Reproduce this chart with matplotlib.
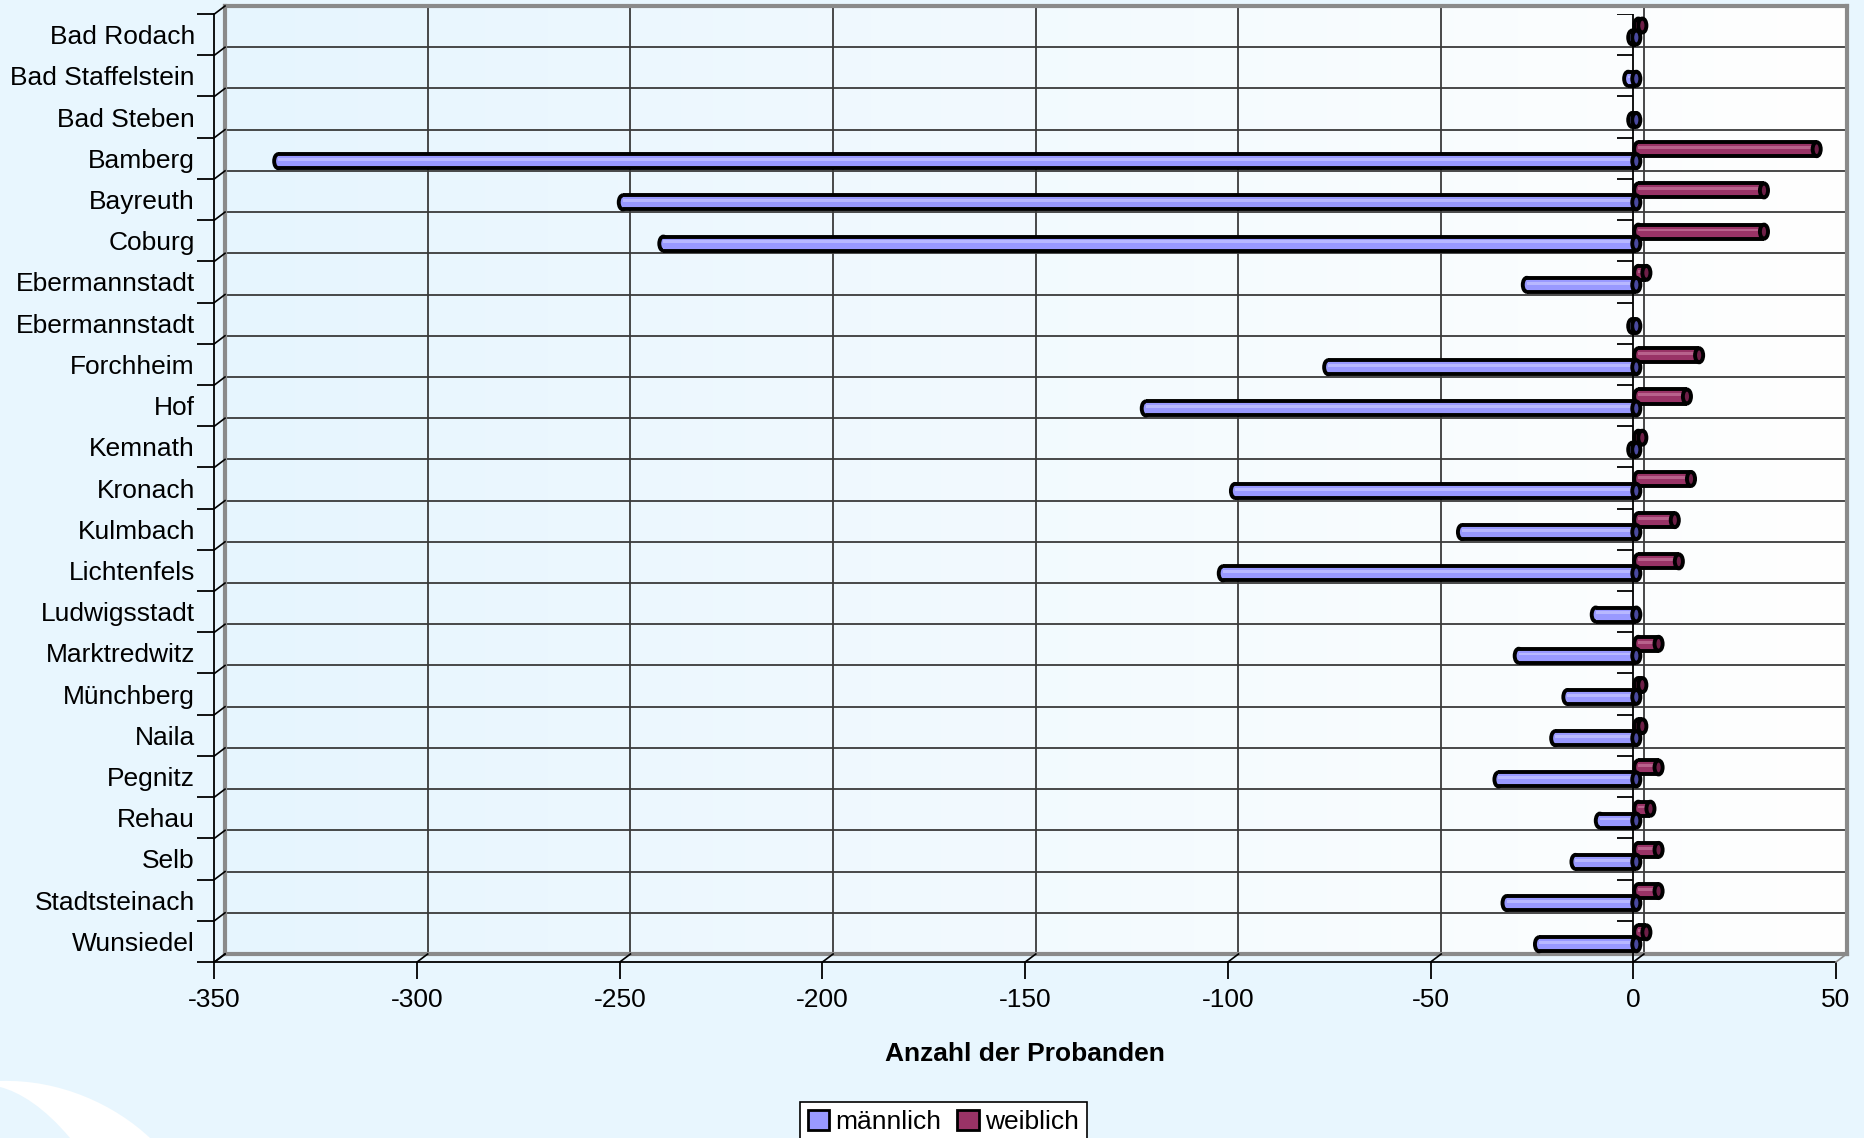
import matplotlib
matplotlib.use("Agg")
import matplotlib.pyplot as plt
import numpy as np
from matplotlib.patches import Ellipse, Patch, PathPatch
from matplotlib.lines import Line2D
from matplotlib.path import Path
from matplotlib.colors import LinearSegmentedColormap
from matplotlib.transforms import ScaledTranslation, IdentityTransform

plt.rcParams['font.family'] = ['Liberation Sans', 'DejaVu Sans']

# --- data ---
orte = ["Bad Rodach", "Bad Staffelstein", "Bad Steben", "Bamberg", "Bayreuth",
        "Coburg", "Ebermannstadt", "Ebermannstadt", "Forchheim", "Hof",
        "Kemnath", "Kronach", "Kulmbach", "Lichtenfels", "Ludwigsstadt",
        "Marktredwitz", "Münchberg", "Naila", "Pegnitz", "Rehau", "Selb",
        "Stadtsteinach", "Wunsiedel"]
maennlich = [-1, -2, -1, -335, -250, -240, -27, -1, -76, -121, -1, -99, -43,
             -102, -10, -29, -17, -20, -34, -9, -15, -32, -24]
weiblich = [1, 0, 0, 44, 31, 31, 2, 0, 15, 12, 1, 13, 9, 10, 0, 5, 1, 1, 5,
            3, 5, 5, 2]
x_ticks = list(range(-350, 51, 50))

W, H, DPI = 1864, 1138, 100
BG = "#e8f6fe"
BLUE, BLUE_L, BLUE_D = "#9999ff", "#b8b8ff", "#4a4aa0"
PINK, PINK_L, PINK_D = "#993366", "#b8628c", "#6e1f47"

fig = plt.figure(figsize=(W / DPI, H / DPI), dpi=DPI, facecolor=BG)

# decorative swoosh bottom left
verts = [(0, 1081), (60, 1079), (115, 1105), (150, 1138),
         (70, 1138), (45, 1108), (20, 1092), (0, 1087), (0, 1081)]
codes = [Path.MOVETO, Path.CURVE4, Path.CURVE4, Path.CURVE4,
         Path.LINETO, Path.CURVE4, Path.CURVE4, Path.CURVE4, Path.CLOSEPOLY]
verts = [(x, H - y) for x, y in verts]
fig.add_artist(PathPatch(Path(verts, codes), facecolor="white", edgecolor="none",
                         transform=IdentityTransform(), zorder=0))

# front frame (px) and depth offset
x0, x1, ytop, ybot = 214.4, 1836.0, 14.0, 962.0
dx, dy = 10.6, 8.0
pos = [x0 / W, 1 - ybot / H, (x1 - x0) / W, (ybot - ytop) / H]
n = len(orte)

# --- back wall ---
wall = fig.add_axes([(x0 + dx) / W, (H - ybot + dy) / H, pos[2], pos[3]], zorder=1)
wall.set_xlim(-350, 50)
wall.set_ylim(n - 0.5, -0.5)
grad = np.linspace(0, 1, 256).reshape(1, -1)
cmap = LinearSegmentedColormap.from_list("wall", ["#e6f5fe", "#ffffff"])
wall.imshow(grad, extent=[-350, 50, n - 0.5, -0.5], aspect="auto", cmap=cmap, zorder=0)
for xv in x_ticks[1:-1]:
    wall.axvline(xv, color="#3a3a3a", lw=1.3, zorder=1)
for k in range(1, n):
    wall.axhline(k - 0.5, color="#3a3a3a", lw=1.3, zorder=1)
for s in wall.spines.values():
    s.set_color("#8a8a8a")
    s.set_linewidth(3)
wall.set_xticks([])
wall.set_yticks([])

# --- front axes ---
ax = fig.add_axes(pos, zorder=2)
ax.patch.set_visible(False)
ax.set_xlim(-350, 50)
ax.set_ylim(n - 0.5, -0.5)
for s in ["top", "right"]:
    ax.spines[s].set_visible(False)
for s in ["left", "bottom"]:
    ax.spines[s].set_linewidth(1.3)

ax.set_xticks(x_ticks)
ax.set_xticklabels([str(v) for v in x_ticks], fontsize=19)
ax.tick_params(axis="x", length=12, width=1.3, pad=7)
ax.set_yticks(range(n))
ax.set_yticklabels(orte, fontsize=19)
ax.tick_params(axis="y", which="major", length=0, pad=14)
ax.set_yticks([k - 0.5 for k in range(n + 1)], minor=True)
ax.tick_params(axis="y", which="minor", length=12, width=1.3)
ax.set_xlabel("Anzahl der Probanden", fontsize=19, fontweight="bold", labelpad=21)

# zero line with its own ticks
ax.axvline(0, color="black", lw=1.3, zorder=1)
ax.hlines([k - 0.5 for k in range(n)], -3.9, 0, colors="black", lw=1.3, zorder=1)

# depth connectors at ticks and floor/right edges
def connector(xd, yd, color="black"):
    px, py = ax.transData.transform((xd, yd))
    fig.add_artist(Line2D([px, px + dx], [py, py + dy], color=color, lw=1.2,
                          transform=IdentityTransform(), zorder=3))

for xv in x_ticks:
    connector(xv, n - 0.5, "black" if xv != 50 else "#8a8a8a")
for k in range(n + 1):
    connector(-350, k - 0.5)


def cylinder(yc, v, face, light, dark, trans, h=0.34, cw=2.0):
    if v == 0:
        return
    lo, hi = min(0, v), max(0, v)
    ax.add_patch(Ellipse((lo, yc), cw, h, facecolor=face, edgecolor="black",
                         lw=2.8, transform=trans, zorder=4))
    ax.barh(yc, hi - lo, left=lo, height=h, color=face, lw=0, transform=trans, zorder=5)
    ax.barh(yc - h * 0.12, hi - lo, left=lo, height=h * 0.2, color=light, lw=0,
            transform=trans, zorder=5)
    ax.hlines([yc - h / 2, yc + h / 2], lo, hi, colors="black", lw=2.8,
              transform=trans, zorder=6)
    ax.add_patch(Ellipse((hi, yc), cw, h, facecolor=dark, edgecolor="black",
                         lw=2.8, transform=trans, zorder=7))


shift_w = ax.transData + ScaledTranslation(5 / DPI, 0, fig.dpi_scale_trans)
shift_m = ax.transData + ScaledTranslation(3 / DPI, 0, fig.dpi_scale_trans)
for i in range(n):
    cylinder(i - 0.22, weiblich[i], PINK, PINK_L, PINK_D, shift_w)
for i in range(n):
    cylinder(i + 0.07, maennlich[i], BLUE, BLUE_L, BLUE_D, shift_m)

handles = [Patch(facecolor=BLUE, edgecolor="black", lw=2, label="männlich"),
           Patch(facecolor=PINK, edgecolor="black", lw=2, label="weiblich")]
leg = fig.legend(handles=handles, loc="upper center", ncol=2,
                 bbox_to_anchor=(943.5 / W, 1 - 1102 / H), borderaxespad=0,
                 fontsize=19, frameon=True, fancybox=False, framealpha=1,
                 edgecolor="black", handlelength=0.8, handleheight=0.8,
                 handletextpad=0.25, columnspacing=0.6, borderpad=0.3)
leg.get_frame().set_linewidth(1.2)

fig.savefig("out.png", dpi=DPI, facecolor=BG)
